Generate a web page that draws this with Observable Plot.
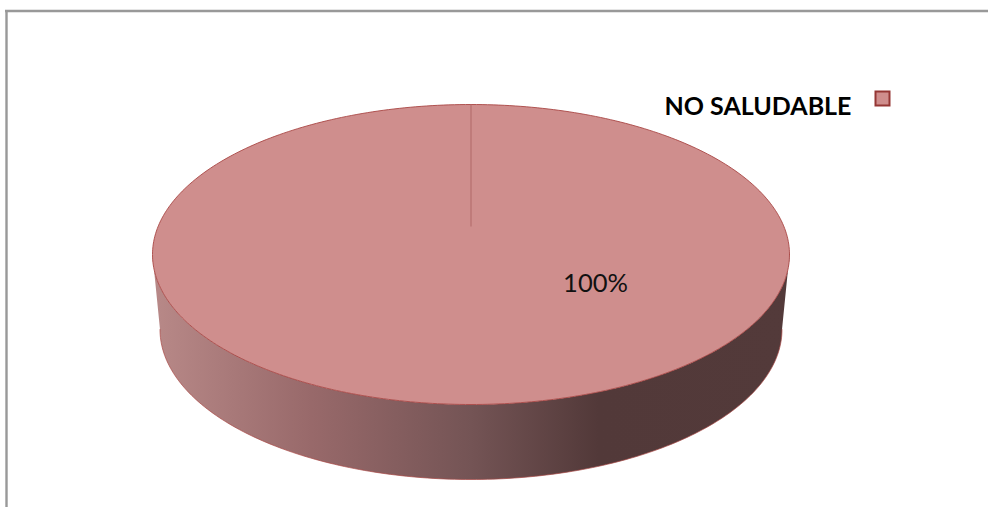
<!DOCTYPE html>
<html>
<head>
<meta charset="utf-8">
<script src="https://cdn.jsdelivr.net/npm/d3@7"></script>
<script src="https://cdn.jsdelivr.net/npm/@observablehq/plot@0.6"></script>
<style>
  html, body { margin: 0; padding: 0; background: #fff; }
  svg { display: block; }
</style>
</head>
<body>
<div id="chart"></div>
<script>
// Survey result: share of respondents per category
const categories = ["NO SALUDABLE"];
const shares = [100];
const sliceFill = "#CF8E8D";
const sliceEdge = "#A94745";
const wallStops = [
  [0, "#B88988"], [0.25, "#98696A"], [0.5, "#745455"], [0.7, "#523939"], [1, "#533A3A"]
];

const W = 988, H = 507;
// Disc geometry of the tilted pie, in page units
const upper = {cx: 470.5, cy: 254, rx: 318.5, ry: 150};
const lower = {cx: 470.5, cy: 329, rx: 311, ry: 150};

const total = d3.sum(shares);
const turns = d3.range(0, 361, 1).map(d => d * Math.PI / 180);
const onDisc = (e, t) => ({x: e.cx + e.rx * Math.cos(t), y: e.cy + e.ry * Math.sin(t)});
const rimPoints = turns.map(t => onDisc(upper, t));

// Side wall: the front half of the rim closed against the lower disc
const front = turns.filter(t => t <= Math.PI);
const wallOutline = [
  ...front.map(t => onDisc(upper, t)),
  ...front.slice().reverse().map(t => onDisc(lower, t))
];
const baseEdge = front.map(t => onDisc(lower, t));

// Slice boundary, from near the disc centre up to the twelve o'clock start angle
const startAngle = -Math.PI / 2;
const boundary = shares.map((v, i) => {
  const t = startAngle + d3.sum(shares.slice(0, i)) / total * 2 * Math.PI;
  const p = onDisc(upper, t);
  return {x1: upper.cx, y1: upper.cy - 28, x2: p.x, y2: p.y};
});

const wallDefs = () => {
  const svgNs = "http://www.w3.org/2000/svg";
  const defs = document.createElementNS(svgNs, "defs");
  const g = document.createElementNS(svgNs, "linearGradient");
  g.setAttribute("id", "wallShade");
  g.setAttribute("gradientUnits", "userSpaceOnUse");
  g.setAttribute("x1", upper.cx - upper.rx);
  g.setAttribute("x2", upper.cx + upper.rx);
  g.setAttribute("y1", 0);
  g.setAttribute("y2", 0);
  wallStops.forEach(([o, c]) => {
    const s = document.createElementNS(svgNs, "stop");
    s.setAttribute("offset", o);
    s.setAttribute("stop-color", c);
    g.append(s);
  });
  defs.append(g);
  return defs;
};

const chart = Plot.plot({
  width: W, height: H, margin: 0,
  x: {domain: [0, W], range: [0, W], axis: null},
  y: {domain: [0, H], range: [0, H], axis: null},
  style: {background: "#fff", fontFamily: "Lato, sans-serif"},
  marks: [
    wallDefs,
    // Chart area border (top and left edges)
    Plot.ruleY([10.5], {x1: 5, x2: W, stroke: "#999", strokeWidth: 2.4}),
    Plot.ruleX([6], {y1: 10, y2: H, stroke: "#999", strokeWidth: 2.4}),
    // Wall
    Plot.line(wallOutline, {x: "x", y: "y", fill: "url(#wallShade)", stroke: "none", curve: "linear"}),
    Plot.line(baseEdge, {x: "x", y: "y", stroke: "#A94745", strokeWidth: 0.7, curve: "linear"}),
    // Top face
    Plot.line(rimPoints, {x: "x", y: "y", fill: sliceFill, stroke: sliceEdge, strokeWidth: 0.9, curve: "linear"}),
    Plot.link(boundary, {x1: "x1", y1: "y1", x2: "x2", y2: "y2", stroke: "#B56F6E", strokeWidth: 1.2}),
    // Value label
    Plot.text(shares, {
      x: () => 595, y: () => 283,
      text: v => `${v}%`,
      fontSize: 25.5, fill: "#111", textAnchor: "middle"
    }),
    // Legend
    Plot.text(categories, {
      x: () => 851, y: () => 106.5,
      text: d => d,
      fontSize: 25, fontWeight: 700, fill: "#000", textAnchor: "end"
    }),
    Plot.dot(categories, {
      x: () => 882, y: () => 98, symbol: "square", r: 7.9,
      fill: sliceFill, stroke: "#953735", strokeWidth: 2
    })
  ]
});
document.getElementById("chart").append(chart);
</script>
</body>
</html>
